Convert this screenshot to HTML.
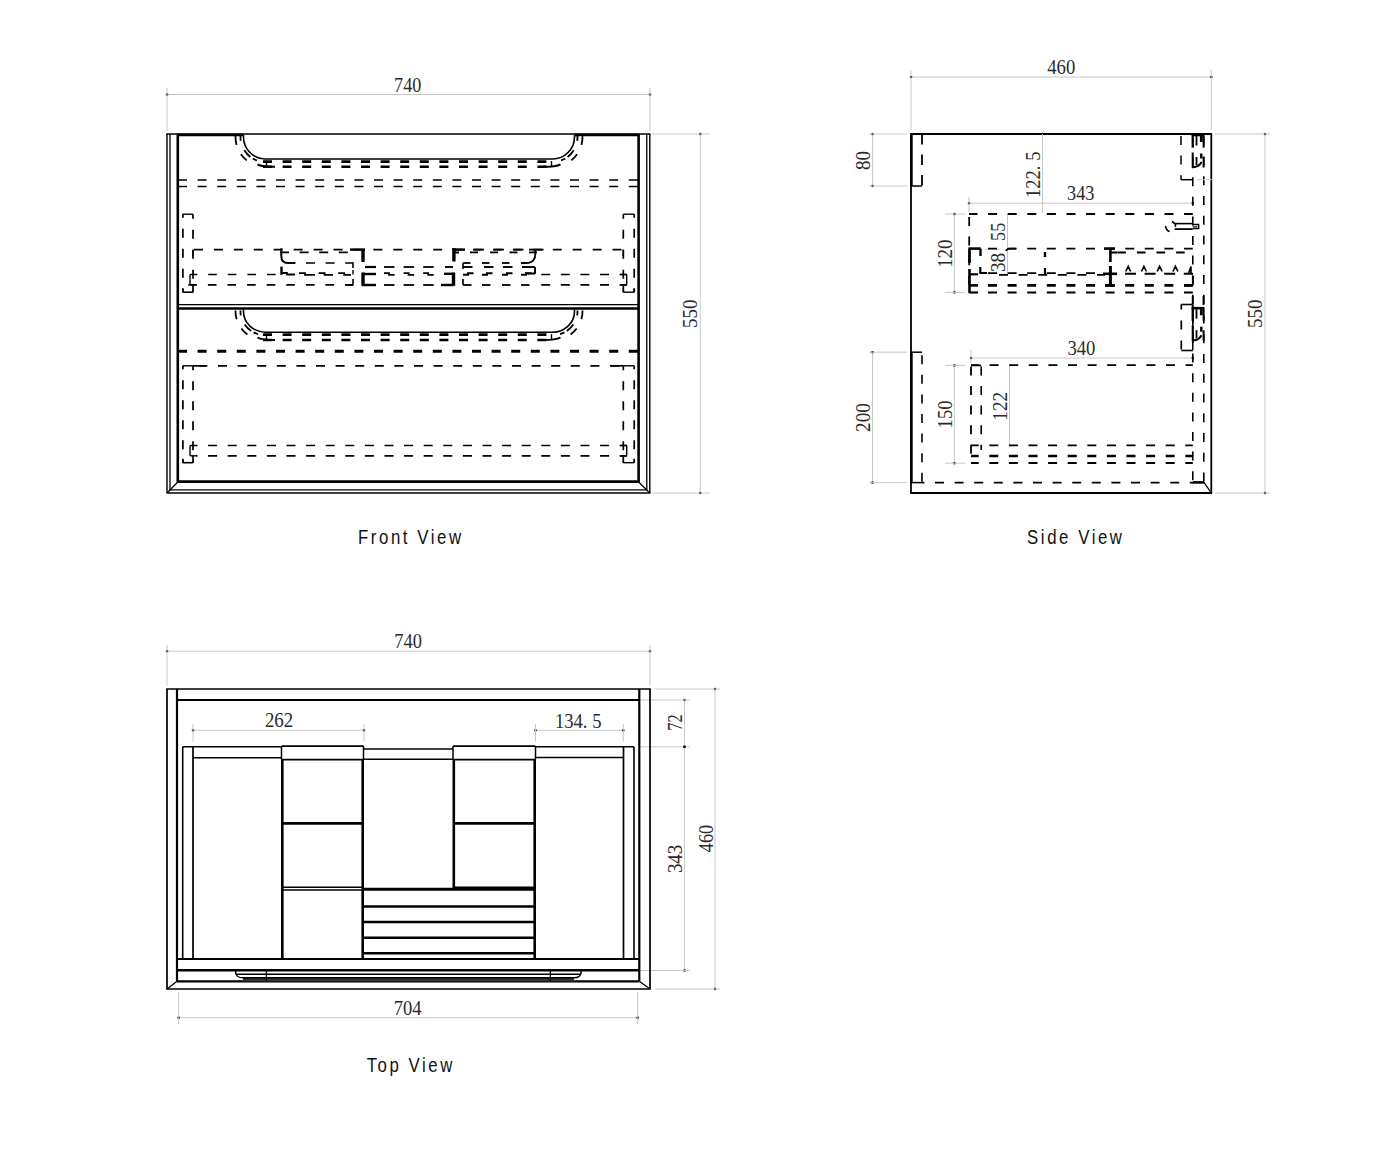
<!DOCTYPE html>
<html><head><meta charset="utf-8"><style>
html,body{margin:0;padding:0;background:#fff;width:1400px;height:1152px;overflow:hidden}
svg{display:block}
.n{font-family:"Liberation Serif",serif;fill:#2b2b2b}
.lbl{font-family:"Liberation Sans",sans-serif;font-size:21px;fill:#111;letter-spacing:3.2px}
</style></head><body>
<svg width="1400" height="1152" viewBox="0 0 1400 1152">
<rect width="1400" height="1152" fill="#fff"/>
<line x1="167" y1="94.5" x2="650" y2="94.5" stroke="#c8c8c8" stroke-width="1" stroke-linecap="butt"/>
<rect x="165.9" y="93.4" width="2.2" height="2.2" fill="#000"/>
<rect x="648.9" y="93.4" width="2.2" height="2.2" fill="#000"/>
<line x1="167" y1="88" x2="167" y2="131" stroke="#c8c8c8" stroke-width="1" stroke-linecap="butt"/>
<line x1="650" y1="88" x2="650" y2="131" stroke="#c8c8c8" stroke-width="1" stroke-linecap="butt"/>
<line x1="700.3" y1="134" x2="700.3" y2="493" stroke="#c8c8c8" stroke-width="1" stroke-linecap="butt"/>
<rect x="699.1999999999999" y="132.9" width="2.2" height="2.2" fill="#000"/>
<rect x="699.1999999999999" y="491.9" width="2.2" height="2.2" fill="#000"/>
<line x1="652" y1="134" x2="710" y2="134" stroke="#c8c8c8" stroke-width="1" stroke-linecap="butt"/>
<line x1="652" y1="493" x2="710" y2="493" stroke="#c8c8c8" stroke-width="1" stroke-linecap="butt"/>
<line x1="167" y1="134" x2="167" y2="493" stroke="#000" stroke-width="1.4" stroke-linecap="butt"/>
<line x1="170" y1="134" x2="170" y2="490" stroke="#000" stroke-width="1.3" stroke-linecap="butt"/>
<line x1="177.8" y1="134" x2="177.8" y2="482" stroke="#000" stroke-width="2.6" stroke-linecap="butt"/>
<line x1="638.6" y1="134" x2="638.6" y2="482" stroke="#000" stroke-width="2.6" stroke-linecap="butt"/>
<line x1="646.8" y1="134" x2="646.8" y2="490" stroke="#000" stroke-width="1.3" stroke-linecap="butt"/>
<line x1="649.8" y1="134" x2="649.8" y2="493" stroke="#000" stroke-width="1.4" stroke-linecap="butt"/>
<line x1="166.3" y1="134" x2="650.5" y2="134" stroke="#000" stroke-width="1.6" stroke-linecap="butt"/>
<line x1="177" y1="135" x2="243.5" y2="135" stroke="#000" stroke-width="2.4" stroke-linecap="butt"/>
<line x1="574.5" y1="135" x2="638" y2="135" stroke="#000" stroke-width="2.4" stroke-linecap="butt"/>
<line x1="177" y1="481.7" x2="639.5" y2="481.7" stroke="#000" stroke-width="2.8" stroke-linecap="butt"/>
<line x1="170" y1="489.8" x2="646.8" y2="489.8" stroke="#000" stroke-width="1.3" stroke-linecap="butt"/>
<line x1="166.5" y1="493" x2="650.5" y2="493" stroke="#000" stroke-width="1.6" stroke-linecap="butt"/>
<line x1="177.8" y1="482" x2="167" y2="493" stroke="#000" stroke-width="1.3" stroke-linecap="butt"/>
<line x1="638.6" y1="482" x2="649.8" y2="493" stroke="#000" stroke-width="1.3" stroke-linecap="butt"/>
<path d="M243.5,135 L243.5,137 A22,22 0 0 0 265.5,159 L552.5,159 A22,22 0 0 0 574.5,137 L574.5,135" stroke="#000" stroke-width="1.6" fill="none" stroke-linecap="butt" stroke-linejoin="miter"/>
<path d="M240.5,136 A25,25 0 0 0 265.5,162" stroke="#000" stroke-width="1.8" fill="none" stroke-dasharray="5 9.9 9 2.8 4.6 40" stroke-dashoffset="0" stroke-linecap="butt" stroke-linejoin="miter"/>
<path d="M577.5,136 A25,25 0 0 1 552.5,162" stroke="#000" stroke-width="1.8" fill="none" stroke-dasharray="5 9.9 9 2.8 4.6 40" stroke-dashoffset="0" stroke-linecap="butt" stroke-linejoin="miter"/>
<path d="M235.5,136 A30,30 0 0 0 265.5,167" stroke="#000" stroke-width="1.8" fill="none" stroke-dasharray="9 10.3 8.5 40" stroke-dashoffset="0" stroke-linecap="butt" stroke-linejoin="miter"/>
<path d="M582.5,136 A30,30 0 0 1 552.5,167" stroke="#000" stroke-width="1.8" fill="none" stroke-dasharray="9 10.3 8.5 40" stroke-dashoffset="0" stroke-linecap="butt" stroke-linejoin="miter"/>
<line x1="262" y1="161.6" x2="556" y2="161.6" stroke="#000" stroke-width="2.8" stroke-dasharray="9 10.6" stroke-dashoffset="-1" stroke-linecap="butt"/>
<line x1="262" y1="166.8" x2="556" y2="166.8" stroke="#000" stroke-width="2.4" stroke-dasharray="9 10.6" stroke-dashoffset="-1" stroke-linecap="butt"/>
<line x1="266.5" y1="161" x2="266.5" y2="167" stroke="#000" stroke-width="1.4" stroke-linecap="butt"/>
<line x1="551.5" y1="161" x2="551.5" y2="167" stroke="#000" stroke-width="1.4" stroke-linecap="butt"/>
<path d="M257.5,164.3 Q262,166.8 275,166.8" stroke="#000" stroke-width="2.0" fill="none" stroke-linecap="butt" stroke-linejoin="miter"/>
<path d="M560.5,164.3 Q556,166.8 543,166.8" stroke="#000" stroke-width="2.0" fill="none" stroke-linecap="butt" stroke-linejoin="miter"/>
<line x1="178" y1="180" x2="638" y2="180" stroke="#000" stroke-width="1.7" stroke-dasharray="9 10.6" stroke-dashoffset="0" stroke-linecap="butt"/>
<line x1="178" y1="186.5" x2="638" y2="186.5" stroke="#000" stroke-width="1.7" stroke-dasharray="9 10.6" stroke-dashoffset="0" stroke-linecap="butt"/>
<line x1="182.6" y1="214.2" x2="193" y2="214.2" stroke="#000" stroke-width="1.4" stroke-linecap="butt"/>
<line x1="182.6" y1="292.2" x2="193" y2="292.2" stroke="#000" stroke-width="1.6" stroke-linecap="butt"/>
<line x1="182.9" y1="288.2" x2="182.9" y2="292.2" stroke="#000" stroke-width="1.7" stroke-linecap="butt"/>
<line x1="193" y1="285.2" x2="193" y2="292.2" stroke="#000" stroke-width="1.7" stroke-linecap="butt"/>
<line x1="634.2" y1="288.2" x2="634.2" y2="292.2" stroke="#000" stroke-width="1.7" stroke-linecap="butt"/>
<line x1="623.3" y1="285.2" x2="623.3" y2="292.2" stroke="#000" stroke-width="1.7" stroke-linecap="butt"/>
<line x1="182.9" y1="214.2" x2="182.9" y2="292.2" stroke="#000" stroke-width="1.7" stroke-dasharray="9 11" stroke-dashoffset="5.5" stroke-linecap="butt"/>
<line x1="193" y1="214.2" x2="193" y2="292.2" stroke="#000" stroke-width="1.7" stroke-dasharray="9 11" stroke-dashoffset="4.5" stroke-linecap="butt"/>
<line x1="623.3" y1="214.2" x2="634.2" y2="214.2" stroke="#000" stroke-width="1.4" stroke-linecap="butt"/>
<line x1="623.3" y1="292.2" x2="634.2" y2="292.2" stroke="#000" stroke-width="1.4" stroke-linecap="butt"/>
<line x1="634.2" y1="214.2" x2="634.2" y2="292.2" stroke="#000" stroke-width="1.7" stroke-dasharray="9 11" stroke-dashoffset="5.5" stroke-linecap="butt"/>
<line x1="623.3" y1="214.2" x2="623.3" y2="292.2" stroke="#000" stroke-width="1.7" stroke-dasharray="9 11" stroke-dashoffset="4.5" stroke-linecap="butt"/>
<line x1="193" y1="249.7" x2="623.3" y2="249.7" stroke="#000" stroke-width="1.7" stroke-dasharray="9 10.93" stroke-dashoffset="-1" stroke-linecap="butt"/>
<line x1="196" y1="274.5" x2="281" y2="274.5" stroke="#000" stroke-width="1.7" stroke-dasharray="8.6 11" stroke-dashoffset="-12.2" stroke-linecap="butt"/>
<line x1="541.2" y1="274.5" x2="627" y2="274.5" stroke="#000" stroke-width="1.7" stroke-dasharray="9 10.6" stroke-dashoffset="0" stroke-linecap="butt"/>
<line x1="188.3" y1="284.8" x2="353" y2="284.8" stroke="#000" stroke-width="1.7" stroke-dasharray="8.6 11" stroke-dashoffset="0" stroke-linecap="butt"/>
<line x1="541.2" y1="284.8" x2="627" y2="284.8" stroke="#000" stroke-width="1.7" stroke-dasharray="9 10.6" stroke-dashoffset="0" stroke-linecap="butt"/>
<line x1="190" y1="274.5" x2="190" y2="284.8" stroke="#000" stroke-width="1.4" stroke-linecap="butt"/>
<line x1="190" y1="274.5" x2="196" y2="274.5" stroke="#000" stroke-width="1.4" stroke-linecap="butt"/>
<line x1="190" y1="284.8" x2="196" y2="284.8" stroke="#000" stroke-width="1.4" stroke-linecap="butt"/>
<line x1="626.7" y1="274.5" x2="626.7" y2="284.8" stroke="#000" stroke-width="1.4" stroke-linecap="butt"/>
<line x1="620" y1="274.5" x2="626.7" y2="274.5" stroke="#000" stroke-width="1.4" stroke-linecap="butt"/>
<line x1="620" y1="284.8" x2="626.7" y2="284.8" stroke="#000" stroke-width="1.4" stroke-linecap="butt"/>
<line x1="193" y1="249.7" x2="193" y2="256" stroke="#000" stroke-width="1.5" stroke-linecap="butt"/>
<line x1="623.3" y1="249.7" x2="623.3" y2="256" stroke="#000" stroke-width="1.5" stroke-linecap="butt"/>
<line x1="280" y1="252.4" x2="350" y2="252.4" stroke="#000" stroke-width="1.7" stroke-dasharray="9 10.6" stroke-dashoffset="0" stroke-linecap="butt"/>
<path d="M281.3,248.3 L281.3,256 Q281.3,263 288,263 L295.4,263" stroke="#000" stroke-width="2" fill="none" stroke-linecap="butt" stroke-linejoin="miter"/>
<line x1="306" y1="263" x2="353" y2="263" stroke="#000" stroke-width="1.7" stroke-dasharray="9 10.6" stroke-dashoffset="0" stroke-linecap="butt"/>
<line x1="353" y1="262.3" x2="353" y2="268" stroke="#000" stroke-width="1.6" stroke-linecap="butt"/>
<line x1="350" y1="249.6" x2="365" y2="249.6" stroke="#000" stroke-width="2.4" stroke-linecap="butt"/>
<line x1="363" y1="249" x2="363" y2="262" stroke="#000" stroke-width="3.4" stroke-linecap="butt"/>
<line x1="281.5" y1="266.6" x2="281.5" y2="274.8" stroke="#000" stroke-width="2.4" stroke-linecap="butt"/>
<path d="M281.5,273 L287,273 L287,274.5 L295,274.5" stroke="#000" stroke-width="1.8" fill="none" stroke-linecap="butt" stroke-linejoin="miter"/>
<path d="M299,273.2 L305,273.2 L305,274.8 L315,274.8" stroke="#000" stroke-width="1.8" fill="none" stroke-linecap="butt" stroke-linejoin="miter"/>
<path d="M318.6,273.2 L324.6,273.2 L324.6,274.8 L333,274.8" stroke="#000" stroke-width="1.8" fill="none" stroke-linecap="butt" stroke-linejoin="miter"/>
<path d="M338.2,273.2 L344.2,273.2 L344.2,274.8 L351,274.8" stroke="#000" stroke-width="1.8" fill="none" stroke-linecap="butt" stroke-linejoin="miter"/>
<line x1="353" y1="270" x2="353" y2="274.5" stroke="#000" stroke-width="1.4" stroke-linecap="butt"/>
<line x1="353" y1="279" x2="353" y2="285.6" stroke="#000" stroke-width="1.6" stroke-linecap="butt"/>
<line x1="345" y1="285" x2="353" y2="285" stroke="#000" stroke-width="1.6" stroke-linecap="butt"/>
<line x1="363" y1="272.5" x2="363" y2="285.8" stroke="#000" stroke-width="3.4" stroke-linecap="butt"/>
<line x1="365" y1="267" x2="376" y2="267" stroke="#000" stroke-width="2.2" stroke-linecap="butt"/>
<line x1="362" y1="274" x2="376" y2="274" stroke="#000" stroke-width="2.4" stroke-linecap="butt"/>
<line x1="362" y1="285" x2="376" y2="285" stroke="#000" stroke-width="2.4" stroke-linecap="butt"/>
<line x1="453.9" y1="248" x2="453.9" y2="261.5" stroke="#000" stroke-width="3.4" stroke-linecap="butt"/>
<line x1="452.5" y1="249.6" x2="465" y2="249.6" stroke="#000" stroke-width="2.4" stroke-linecap="butt"/>
<line x1="455" y1="252.5" x2="459" y2="252.5" stroke="#000" stroke-width="2.0" stroke-linecap="butt"/>
<line x1="474" y1="249.6" x2="484" y2="249.6" stroke="#000" stroke-width="1.8" stroke-linecap="butt"/>
<line x1="470" y1="252.4" x2="478" y2="252.4" stroke="#000" stroke-width="1.8" stroke-linecap="butt"/>
<line x1="494" y1="249.6" x2="504" y2="249.6" stroke="#000" stroke-width="1.8" stroke-linecap="butt"/>
<line x1="490" y1="252.4" x2="498" y2="252.4" stroke="#000" stroke-width="1.8" stroke-linecap="butt"/>
<line x1="513.5" y1="249.6" x2="523.5" y2="249.6" stroke="#000" stroke-width="1.8" stroke-linecap="butt"/>
<line x1="509.5" y1="252.4" x2="517.5" y2="252.4" stroke="#000" stroke-width="1.8" stroke-linecap="butt"/>
<line x1="529" y1="249.6" x2="543.6" y2="249.6" stroke="#000" stroke-width="1.8" stroke-linecap="butt"/>
<line x1="529" y1="252.4" x2="537" y2="252.4" stroke="#000" stroke-width="1.8" stroke-linecap="butt"/>
<path d="M535,250 Q537,263 526,263 L521,263" stroke="#000" stroke-width="1.9" fill="none" stroke-linecap="butt" stroke-linejoin="miter"/>
<line x1="463" y1="263" x2="470.5" y2="263" stroke="#000" stroke-width="1.8" stroke-linecap="butt"/>
<line x1="482" y1="263" x2="489.5" y2="263" stroke="#000" stroke-width="1.8" stroke-linecap="butt"/>
<line x1="502" y1="263" x2="509.5" y2="263" stroke="#000" stroke-width="1.8" stroke-linecap="butt"/>
<line x1="463" y1="263" x2="463" y2="269" stroke="#000" stroke-width="1.6" stroke-linecap="butt"/>
<line x1="463" y1="267" x2="472.5" y2="267" stroke="#000" stroke-width="1.9" stroke-linecap="butt"/>
<line x1="484" y1="267" x2="493.5" y2="267" stroke="#000" stroke-width="1.9" stroke-linecap="butt"/>
<line x1="503" y1="267" x2="512.5" y2="267" stroke="#000" stroke-width="1.9" stroke-linecap="butt"/>
<line x1="445" y1="267" x2="453" y2="267" stroke="#000" stroke-width="1.9" stroke-linecap="butt"/>
<line x1="522" y1="267" x2="535" y2="267" stroke="#000" stroke-width="1.9" stroke-linecap="butt"/>
<line x1="535" y1="267" x2="535" y2="274" stroke="#000" stroke-width="1.9" stroke-linecap="butt"/>
<path d="M463,274.8 L468,274.8 L468,273.2 L473.5,273.2" stroke="#000" stroke-width="2.0" fill="none" stroke-linecap="butt" stroke-linejoin="miter"/>
<path d="M482,274.8 L487,274.8 L487,273.2 L492.5,273.2" stroke="#000" stroke-width="2.0" fill="none" stroke-linecap="butt" stroke-linejoin="miter"/>
<path d="M502,274.8 L507,274.8 L507,273.2 L512.5,273.2" stroke="#000" stroke-width="2.0" fill="none" stroke-linecap="butt" stroke-linejoin="miter"/>
<path d="M521,274.8 L526,274.8 L526,273.2 L531.5,273.2" stroke="#000" stroke-width="2.0" fill="none" stroke-linecap="butt" stroke-linejoin="miter"/>
<line x1="525" y1="273.5" x2="535" y2="273.5" stroke="#000" stroke-width="2.0" stroke-linecap="butt"/>
<line x1="463" y1="279" x2="463" y2="285" stroke="#000" stroke-width="1.7" stroke-linecap="butt"/>
<line x1="463" y1="285" x2="471.5" y2="285" stroke="#000" stroke-width="1.8" stroke-linecap="butt"/>
<line x1="482" y1="285" x2="490.5" y2="285" stroke="#000" stroke-width="1.8" stroke-linecap="butt"/>
<line x1="502" y1="285" x2="510.5" y2="285" stroke="#000" stroke-width="1.8" stroke-linecap="butt"/>
<line x1="521" y1="285" x2="529.5" y2="285" stroke="#000" stroke-width="1.8" stroke-linecap="butt"/>
<line x1="453.5" y1="272.5" x2="453.5" y2="285.8" stroke="#000" stroke-width="3.4" stroke-linecap="butt"/>
<line x1="444" y1="273.8" x2="453.5" y2="273.8" stroke="#000" stroke-width="2.4" stroke-linecap="butt"/>
<line x1="441" y1="285" x2="453.5" y2="285" stroke="#000" stroke-width="2.4" stroke-linecap="butt"/>
<line x1="384" y1="267" x2="394.5" y2="267" stroke="#000" stroke-width="1.8" stroke-linecap="butt"/>
<path d="M384,273.2 L389,273.2 L389,274.8 L394.5,274.8" stroke="#000" stroke-width="1.8" fill="none" stroke-linecap="butt" stroke-linejoin="miter"/>
<line x1="384" y1="285" x2="394.5" y2="285" stroke="#000" stroke-width="1.8" stroke-linecap="butt"/>
<line x1="403.6" y1="267" x2="414.1" y2="267" stroke="#000" stroke-width="1.8" stroke-linecap="butt"/>
<path d="M403.6,273.2 L408.6,273.2 L408.6,274.8 L414.1,274.8" stroke="#000" stroke-width="1.8" fill="none" stroke-linecap="butt" stroke-linejoin="miter"/>
<line x1="403.6" y1="285" x2="414.1" y2="285" stroke="#000" stroke-width="1.8" stroke-linecap="butt"/>
<line x1="423.2" y1="267" x2="433.7" y2="267" stroke="#000" stroke-width="1.8" stroke-linecap="butt"/>
<path d="M423.2,273.2 L428.2,273.2 L428.2,274.8 L433.7,274.8" stroke="#000" stroke-width="1.8" fill="none" stroke-linecap="butt" stroke-linejoin="miter"/>
<line x1="423.2" y1="285" x2="433.7" y2="285" stroke="#000" stroke-width="1.8" stroke-linecap="butt"/>
<line x1="178" y1="304.6" x2="638.6" y2="304.6" stroke="#000" stroke-width="1.3" stroke-linecap="butt"/>
<line x1="178" y1="308.5" x2="638.6" y2="308.5" stroke="#000" stroke-width="2.5" stroke-linecap="butt"/>
<path d="M243.5,309.5 L243.5,311.5 A22,20.69999999999999 0 0 0 265.5,332.2 L552.5,332.2 A22,20.69999999999999 0 0 0 574.5,311.5 L574.5,309.5" stroke="#000" stroke-width="1.6" fill="none" stroke-linecap="butt" stroke-linejoin="miter"/>
<path d="M240.5,310.5 A25,23.69999999999999 0 0 0 265.5,335.2" stroke="#000" stroke-width="1.8" fill="none" stroke-dasharray="5 9.9 9 2.8 4.6 40" stroke-dashoffset="0" stroke-linecap="butt" stroke-linejoin="miter"/>
<path d="M577.5,310.5 A25,23.69999999999999 0 0 1 552.5,335.2" stroke="#000" stroke-width="1.8" fill="none" stroke-dasharray="5 9.9 9 2.8 4.6 40" stroke-dashoffset="0" stroke-linecap="butt" stroke-linejoin="miter"/>
<path d="M235.5,310.5 A30,28.69999999999999 0 0 0 265.5,340.2" stroke="#000" stroke-width="1.8" fill="none" stroke-dasharray="9 10.3 8.5 40" stroke-dashoffset="0" stroke-linecap="butt" stroke-linejoin="miter"/>
<path d="M582.5,310.5 A30,28.69999999999999 0 0 1 552.5,340.2" stroke="#000" stroke-width="1.8" fill="none" stroke-dasharray="9 10.3 8.5 40" stroke-dashoffset="0" stroke-linecap="butt" stroke-linejoin="miter"/>
<line x1="262" y1="334.6" x2="556" y2="334.6" stroke="#000" stroke-width="2.8" stroke-dasharray="9 10.6" stroke-dashoffset="-1" stroke-linecap="butt"/>
<line x1="262" y1="340" x2="556" y2="340" stroke="#000" stroke-width="2.4" stroke-dasharray="9 10.6" stroke-dashoffset="-1" stroke-linecap="butt"/>
<line x1="266.5" y1="334.2" x2="266.5" y2="340.2" stroke="#000" stroke-width="1.4" stroke-linecap="butt"/>
<line x1="551.5" y1="334.2" x2="551.5" y2="340.2" stroke="#000" stroke-width="1.4" stroke-linecap="butt"/>
<path d="M257.5,337.5 Q262,340 275,340" stroke="#000" stroke-width="2.0" fill="none" stroke-linecap="butt" stroke-linejoin="miter"/>
<path d="M560.5,337.5 Q556,340 543,340" stroke="#000" stroke-width="2.0" fill="none" stroke-linecap="butt" stroke-linejoin="miter"/>
<line x1="178" y1="351.2" x2="638" y2="351.2" stroke="#000" stroke-width="3.0" stroke-dasharray="9 10.6" stroke-dashoffset="0" stroke-linecap="butt"/>
<line x1="182.6" y1="365.8" x2="193" y2="365.8" stroke="#000" stroke-width="1.4" stroke-linecap="butt"/>
<line x1="182.6" y1="462.7" x2="193" y2="462.7" stroke="#000" stroke-width="1.6" stroke-linecap="butt"/>
<line x1="182.9" y1="458.7" x2="182.9" y2="462.7" stroke="#000" stroke-width="1.7" stroke-linecap="butt"/>
<line x1="193" y1="455.7" x2="193" y2="462.7" stroke="#000" stroke-width="1.7" stroke-linecap="butt"/>
<line x1="634.2" y1="458.7" x2="634.2" y2="462.7" stroke="#000" stroke-width="1.7" stroke-linecap="butt"/>
<line x1="623.3" y1="455.7" x2="623.3" y2="462.7" stroke="#000" stroke-width="1.7" stroke-linecap="butt"/>
<line x1="182.9" y1="365.8" x2="182.9" y2="462.7" stroke="#000" stroke-width="1.7" stroke-dasharray="9 11" stroke-dashoffset="5.5" stroke-linecap="butt"/>
<line x1="193" y1="365.8" x2="193" y2="462.7" stroke="#000" stroke-width="1.7" stroke-dasharray="9 11" stroke-dashoffset="4.5" stroke-linecap="butt"/>
<line x1="623.3" y1="365.8" x2="634.2" y2="365.8" stroke="#000" stroke-width="1.4" stroke-linecap="butt"/>
<line x1="623.3" y1="462.7" x2="634.2" y2="462.7" stroke="#000" stroke-width="1.4" stroke-linecap="butt"/>
<line x1="634.2" y1="365.8" x2="634.2" y2="462.7" stroke="#000" stroke-width="1.7" stroke-dasharray="9 11" stroke-dashoffset="5.5" stroke-linecap="butt"/>
<line x1="623.3" y1="365.8" x2="623.3" y2="462.7" stroke="#000" stroke-width="1.7" stroke-dasharray="9 11" stroke-dashoffset="4.5" stroke-linecap="butt"/>
<line x1="196" y1="445.5" x2="627" y2="445.5" stroke="#000" stroke-width="1.7" stroke-dasharray="9 10.6" stroke-dashoffset="-12.1" stroke-linecap="butt"/>
<line x1="196" y1="455.8" x2="627" y2="455.8" stroke="#000" stroke-width="1.7" stroke-dasharray="9 10.6" stroke-dashoffset="-12.1" stroke-linecap="butt"/>
<line x1="190" y1="445.5" x2="190" y2="455.8" stroke="#000" stroke-width="1.4" stroke-linecap="butt"/>
<line x1="190" y1="445.5" x2="196" y2="445.5" stroke="#000" stroke-width="1.4" stroke-linecap="butt"/>
<line x1="190" y1="455.8" x2="196" y2="455.8" stroke="#000" stroke-width="1.4" stroke-linecap="butt"/>
<line x1="626.7" y1="445.5" x2="626.7" y2="455.8" stroke="#000" stroke-width="1.4" stroke-linecap="butt"/>
<line x1="620" y1="445.5" x2="626.7" y2="445.5" stroke="#000" stroke-width="1.4" stroke-linecap="butt"/>
<line x1="620" y1="455.8" x2="626.7" y2="455.8" stroke="#000" stroke-width="1.4" stroke-linecap="butt"/>
<line x1="193" y1="365.8" x2="623.3" y2="365.8" stroke="#000" stroke-width="1.7" stroke-dasharray="9 10.6" stroke-dashoffset="-5.4" stroke-linecap="butt"/>
<line x1="193" y1="365.8" x2="206" y2="365.8" stroke="#000" stroke-width="1.7" stroke-linecap="butt"/>
<line x1="611" y1="365.8" x2="623.3" y2="365.8" stroke="#000" stroke-width="1.7" stroke-linecap="butt"/>
<text transform="translate(410.8,543.6) scale(0.8,1)" text-anchor="middle" class="lbl">Front View</text>
<line x1="911" y1="77" x2="1211.3" y2="77" stroke="#c8c8c8" stroke-width="1" stroke-linecap="butt"/>
<rect x="909.9" y="75.9" width="2.2" height="2.2" fill="#000"/>
<rect x="1210.2" y="75.9" width="2.2" height="2.2" fill="#000"/>
<line x1="911" y1="70" x2="911" y2="130" stroke="#c8c8c8" stroke-width="1" stroke-linecap="butt"/>
<line x1="1211.3" y1="70" x2="1211.3" y2="130" stroke="#c8c8c8" stroke-width="1" stroke-linecap="butt"/>
<line x1="1265" y1="134" x2="1265" y2="493" stroke="#c8c8c8" stroke-width="1" stroke-linecap="butt"/>
<rect x="1263.9" y="132.9" width="2.2" height="2.2" fill="#000"/>
<rect x="1263.9" y="491.9" width="2.2" height="2.2" fill="#000"/>
<line x1="1215" y1="134" x2="1270" y2="134" stroke="#c8c8c8" stroke-width="1" stroke-linecap="butt"/>
<line x1="1215" y1="493" x2="1270" y2="493" stroke="#c8c8c8" stroke-width="1" stroke-linecap="butt"/>
<path d="M911,134 L1211.3,134 L1211.3,493 L911,493 Z" stroke="#000" stroke-width="1.8" fill="none" stroke-linecap="butt" stroke-linejoin="miter"/>
<line x1="911" y1="186" x2="922" y2="186" stroke="#000" stroke-width="1.5" stroke-linecap="butt"/>
<line x1="922" y1="134" x2="922" y2="186" stroke="#000" stroke-width="1.8" stroke-dasharray="10.5 10" stroke-dashoffset="0" stroke-linecap="butt"/>
<line x1="911.5" y1="134" x2="911.5" y2="186" stroke="#000" stroke-width="2.4" stroke-linecap="butt"/>
<line x1="911" y1="352.2" x2="922" y2="352.2" stroke="#000" stroke-width="1.5" stroke-linecap="butt"/>
<line x1="911" y1="482.6" x2="922" y2="482.6" stroke="#000" stroke-width="1.5" stroke-linecap="butt"/>
<line x1="922" y1="352.2" x2="922" y2="482.6" stroke="#000" stroke-width="1.6" stroke-dasharray="9 10.6" stroke-dashoffset="-3" stroke-linecap="butt"/>
<line x1="911.5" y1="352" x2="911.5" y2="482.6" stroke="#000" stroke-width="2.4" stroke-linecap="butt"/>
<line x1="922" y1="482.6" x2="1193" y2="482.6" stroke="#000" stroke-width="1.8" stroke-dasharray="9 10.6" stroke-dashoffset="-13" stroke-linecap="butt"/>
<line x1="1181" y1="134" x2="1181" y2="179.7" stroke="#000" stroke-width="1.5" stroke-dasharray="9 10.6" stroke-dashoffset="-2" stroke-linecap="butt"/>
<line x1="1181" y1="179.7" x2="1192.7" y2="179.7" stroke="#000" stroke-width="1.5" stroke-linecap="butt"/>
<line x1="1192.8" y1="134" x2="1192.8" y2="482.4" stroke="#000" stroke-width="1.6" stroke-dasharray="9 10.6" stroke-dashoffset="-4" stroke-linecap="butt"/>
<line x1="1203.8" y1="134" x2="1203.8" y2="482.4" stroke="#000" stroke-width="1.6" stroke-dasharray="9 10.75" stroke-dashoffset="-2.75" stroke-linecap="butt"/>
<line x1="1193" y1="482.4" x2="1204" y2="482.4" stroke="#000" stroke-width="2.6" stroke-linecap="butt"/>
<line x1="1204" y1="482.4" x2="1211.3" y2="493" stroke="#000" stroke-width="1.3" stroke-linecap="butt"/>
<line x1="1197" y1="179.7" x2="1212" y2="179.7" stroke="#c8c8c8" stroke-width="1" stroke-linecap="butt"/>
<line x1="1191.6" y1="135" x2="1204" y2="135" stroke="#000" stroke-width="2.6" stroke-linecap="butt"/>
<line x1="1192.7" y1="134" x2="1192.7" y2="147.7" stroke="#000" stroke-width="2.2" stroke-linecap="butt"/>
<line x1="1196.5" y1="136" x2="1196.5" y2="145.5" stroke="#000" stroke-width="1.8" stroke-linecap="butt"/>
<line x1="1201.3" y1="136" x2="1201.3" y2="142" stroke="#000" stroke-width="2.8" stroke-linecap="butt"/>
<line x1="1203.6" y1="134" x2="1203.6" y2="147.7" stroke="#000" stroke-width="2.0" stroke-linecap="butt"/>
<path d="M1192.7,152.4 L1192.7,167.2 Q1199,167 1201.5,162" stroke="#000" stroke-width="2" fill="none" stroke-linecap="butt" stroke-linejoin="miter"/>
<line x1="1196.5" y1="157" x2="1196.5" y2="165" stroke="#000" stroke-width="1.8" stroke-linecap="butt"/>
<line x1="1201.3" y1="153.5" x2="1201.3" y2="158.5" stroke="#000" stroke-width="2.4" stroke-linecap="butt"/>
<line x1="1203.6" y1="157" x2="1203.6" y2="167.5" stroke="#000" stroke-width="2.0" stroke-linecap="butt"/>
<line x1="1191.6" y1="308.2" x2="1204" y2="308.2" stroke="#000" stroke-width="2.6" stroke-linecap="butt"/>
<line x1="1192.7" y1="307.2" x2="1192.7" y2="320.9" stroke="#000" stroke-width="2.2" stroke-linecap="butt"/>
<line x1="1196.5" y1="309.2" x2="1196.5" y2="318.7" stroke="#000" stroke-width="1.8" stroke-linecap="butt"/>
<line x1="1201.3" y1="309.2" x2="1201.3" y2="315.2" stroke="#000" stroke-width="2.8" stroke-linecap="butt"/>
<line x1="1203.6" y1="307.2" x2="1203.6" y2="320.9" stroke="#000" stroke-width="2.0" stroke-linecap="butt"/>
<path d="M1192.7,325.6 L1192.7,340.4 Q1199,340.2 1201.5,335.2" stroke="#000" stroke-width="2" fill="none" stroke-linecap="butt" stroke-linejoin="miter"/>
<line x1="1196.5" y1="330.2" x2="1196.5" y2="338.2" stroke="#000" stroke-width="1.8" stroke-linecap="butt"/>
<line x1="1201.3" y1="326.7" x2="1201.3" y2="331.7" stroke="#000" stroke-width="2.4" stroke-linecap="butt"/>
<line x1="1203.6" y1="330.2" x2="1203.6" y2="340.7" stroke="#000" stroke-width="2.0" stroke-linecap="butt"/>
<line x1="1192.7" y1="296" x2="1192.7" y2="307" stroke="#000" stroke-width="1.8" stroke-linecap="butt"/>
<line x1="1203.5" y1="296" x2="1203.5" y2="305" stroke="#000" stroke-width="1.8" stroke-linecap="butt"/>
<line x1="1181.3" y1="304.5" x2="1192.8" y2="304.5" stroke="#000" stroke-width="1.6" stroke-linecap="butt"/>
<line x1="1181.3" y1="350.5" x2="1192.8" y2="350.5" stroke="#000" stroke-width="1.6" stroke-linecap="butt"/>
<line x1="1181.3" y1="304.5" x2="1181.3" y2="350.5" stroke="#000" stroke-width="1.7" stroke-dasharray="9 11" stroke-dashoffset="4" stroke-linecap="butt"/>
<line x1="954.4" y1="214" x2="954.4" y2="292.4" stroke="#c8c8c8" stroke-width="1" stroke-linecap="butt"/>
<rect x="953.3" y="212.9" width="2.2" height="2.2" fill="#000"/>
<rect x="953.3" y="291.29999999999995" width="2.2" height="2.2" fill="#000"/>
<line x1="945" y1="214" x2="965" y2="214" stroke="#c8c8c8" stroke-width="1" stroke-linecap="butt"/>
<line x1="945" y1="292.4" x2="965" y2="292.4" stroke="#c8c8c8" stroke-width="1" stroke-linecap="butt"/>
<line x1="1007.5" y1="214" x2="1007.5" y2="273.2" stroke="#c8c8c8" stroke-width="1" stroke-linecap="butt"/>
<line x1="985" y1="249.2" x2="1000" y2="249.2" stroke="#c8c8c8" stroke-width="1" stroke-linecap="butt"/>
<line x1="1042.5" y1="134" x2="1042.5" y2="213" stroke="#c8c8c8" stroke-width="1" stroke-linecap="butt"/>
<line x1="969" y1="203.2" x2="1192.8" y2="203.2" stroke="#c8c8c8" stroke-width="1" stroke-linecap="butt"/>
<rect x="967.9" y="202.1" width="2.2" height="2.2" fill="#000"/>
<rect x="1191.7" y="202.1" width="2.2" height="2.2" fill="#000"/>
<line x1="969" y1="197" x2="969" y2="212" stroke="#c8c8c8" stroke-width="1" stroke-linecap="butt"/>
<line x1="969" y1="214" x2="1192.8" y2="214" stroke="#000" stroke-width="1.8" stroke-dasharray="9 10.6" stroke-dashoffset="0.5" stroke-linecap="butt"/>
<line x1="969.2" y1="214" x2="969.2" y2="292.4" stroke="#000" stroke-width="1.8" stroke-dasharray="9 10.6" stroke-dashoffset="-3" stroke-linecap="butt"/>
<line x1="988" y1="248.6" x2="1192.8" y2="248.6" stroke="#000" stroke-width="1.8" stroke-dasharray="9 10.6" stroke-dashoffset="0" stroke-linecap="butt"/>
<line x1="1113" y1="252.5" x2="1192.8" y2="252.5" stroke="#000" stroke-width="1.8" stroke-dasharray="8.6 11" stroke-dashoffset="-4.3" stroke-linecap="butt"/>
<line x1="988" y1="273.2" x2="1105" y2="273.2" stroke="#000" stroke-width="1.8" stroke-dasharray="9 10.6" stroke-dashoffset="0" stroke-linecap="butt"/>
<line x1="995" y1="274.8" x2="1105" y2="274.8" stroke="#000" stroke-width="1.8" stroke-dasharray="9 10.6" stroke-dashoffset="-4" stroke-linecap="butt"/>
<line x1="1125" y1="273.8" x2="1193" y2="273.8" stroke="#000" stroke-width="2.0" stroke-dasharray="11 8.6" stroke-dashoffset="0" stroke-linecap="butt"/>
<line x1="988" y1="285.4" x2="1192.8" y2="285.4" stroke="#000" stroke-width="2.6" stroke-dasharray="9 10.6" stroke-dashoffset="0" stroke-linecap="butt"/>
<line x1="988" y1="292.5" x2="1192.8" y2="292.5" stroke="#000" stroke-width="1.9" stroke-dasharray="9 10.6" stroke-dashoffset="0" stroke-linecap="butt"/>
<line x1="969.5" y1="248.6" x2="969.5" y2="263" stroke="#000" stroke-width="2.8" stroke-linecap="butt"/>
<line x1="968.5" y1="248.6" x2="980.7" y2="248.6" stroke="#000" stroke-width="2.6" stroke-linecap="butt"/>
<line x1="980.5" y1="248.6" x2="980.5" y2="256" stroke="#000" stroke-width="2.4" stroke-linecap="butt"/>
<line x1="969.5" y1="269" x2="969.5" y2="293" stroke="#000" stroke-width="2.6" stroke-linecap="butt"/>
<line x1="969" y1="274.3" x2="978" y2="274.3" stroke="#000" stroke-width="2.2" stroke-linecap="butt"/>
<line x1="969" y1="285.4" x2="978" y2="285.4" stroke="#000" stroke-width="2.6" stroke-linecap="butt"/>
<line x1="969" y1="292.5" x2="978" y2="292.5" stroke="#000" stroke-width="2.2" stroke-linecap="butt"/>
<path d="M980.3,267 L980.3,273 L987,273" stroke="#000" stroke-width="2.2" fill="none" stroke-linecap="butt" stroke-linejoin="miter"/>
<path d="M1006,251 Q1007,248.6 1010,248.6 L1016,248.6" stroke="#000" stroke-width="1.8" fill="none" stroke-linecap="butt" stroke-linejoin="miter"/>
<line x1="1045" y1="252" x2="1045" y2="257" stroke="#000" stroke-width="2.4" stroke-linecap="butt"/>
<line x1="1045" y1="268" x2="1045" y2="274" stroke="#000" stroke-width="2.2" stroke-linecap="butt"/>
<line x1="1110.4" y1="248" x2="1110.4" y2="262" stroke="#000" stroke-width="2.6" stroke-linecap="butt"/>
<line x1="1104" y1="248.6" x2="1115" y2="248.6" stroke="#000" stroke-width="2.6" stroke-linecap="butt"/>
<line x1="1110" y1="252.5" x2="1117" y2="252.5" stroke="#000" stroke-width="2.0" stroke-linecap="butt"/>
<line x1="1110.4" y1="266" x2="1110.4" y2="285.5" stroke="#000" stroke-width="3.0" stroke-linecap="butt"/>
<line x1="1103" y1="273.8" x2="1117" y2="273.8" stroke="#000" stroke-width="2.6" stroke-linecap="butt"/>
<line x1="1105" y1="285.5" x2="1115" y2="285.5" stroke="#000" stroke-width="2.6" stroke-linecap="butt"/>
<path d="M1125.7,271.5 L1128.2,266.4 L1130.7,271.5 M1141.4,271.5 L1143.9,266.4 L1146.4,271.5 M1157.1,271.5 L1159.6,266.4 L1162.1,271.5 M1172.9,271.5 L1175.4,266.4 L1177.9,271.5 M1188.6,273 L1191,266.4 L1191,273" stroke="#000" stroke-width="1.6" fill="none" stroke-linecap="butt" stroke-linejoin="miter"/>
<line x1="1192.8" y1="276" x2="1192.8" y2="285.4" stroke="#000" stroke-width="1.8" stroke-linecap="butt"/>
<line x1="1184" y1="285.4" x2="1192.8" y2="285.4" stroke="#000" stroke-width="2.4" stroke-linecap="butt"/>
<path d="M1172,221.5 L1175.4,224 L1175.4,226.8" stroke="#000" stroke-width="1.6" fill="none" stroke-linecap="butt" stroke-linejoin="miter"/>
<line x1="1175.4" y1="223.6" x2="1192.6" y2="223.6" stroke="#000" stroke-width="1.6" stroke-linecap="butt"/>
<line x1="1174.6" y1="229.1" x2="1192.6" y2="229.1" stroke="#000" stroke-width="1.8" stroke-linecap="butt"/>
<path d="M1192.6,224.5 L1198.6,224.5 L1198.6,228.5 L1192.6,228.5" stroke="#000" stroke-width="1.6" fill="none" stroke-linecap="butt" stroke-linejoin="miter"/>
<line x1="1192.6" y1="226.8" x2="1197" y2="226.8" stroke="#000" stroke-width="1.0" stroke-linecap="butt"/>
<path d="M1165.4,226 Q1166.5,230.8 1169.6,231.6" stroke="#000" stroke-width="1.5" fill="none" stroke-linecap="butt" stroke-linejoin="miter"/>
<line x1="872.6" y1="134" x2="872.6" y2="186" stroke="#c8c8c8" stroke-width="1" stroke-linecap="butt"/>
<rect x="871.5" y="132.9" width="2.2" height="2.2" fill="#000"/>
<rect x="871.5" y="184.9" width="2.2" height="2.2" fill="#000"/>
<line x1="869" y1="134" x2="907" y2="134" stroke="#c8c8c8" stroke-width="1" stroke-linecap="butt"/>
<line x1="869" y1="186" x2="907" y2="186" stroke="#c8c8c8" stroke-width="1" stroke-linecap="butt"/>
<line x1="872.5" y1="352.2" x2="872.5" y2="482.6" stroke="#c8c8c8" stroke-width="1" stroke-linecap="butt"/>
<rect x="871.4" y="351.09999999999997" width="2.2" height="2.2" fill="#000"/>
<rect x="871.4" y="481.5" width="2.2" height="2.2" fill="#000"/>
<line x1="869" y1="352.2" x2="907" y2="352.2" stroke="#c8c8c8" stroke-width="1" stroke-linecap="butt"/>
<line x1="869" y1="482.6" x2="907" y2="482.6" stroke="#c8c8c8" stroke-width="1" stroke-linecap="butt"/>
<line x1="954.4" y1="365.4" x2="954.4" y2="463.2" stroke="#c8c8c8" stroke-width="1" stroke-linecap="butt"/>
<rect x="953.3" y="364.29999999999995" width="2.2" height="2.2" fill="#000"/>
<rect x="953.3" y="462.09999999999997" width="2.2" height="2.2" fill="#000"/>
<line x1="945" y1="365.4" x2="965" y2="365.4" stroke="#c8c8c8" stroke-width="1" stroke-linecap="butt"/>
<line x1="945" y1="463.2" x2="965" y2="463.2" stroke="#c8c8c8" stroke-width="1" stroke-linecap="butt"/>
<line x1="1009.5" y1="365.4" x2="1009.5" y2="445.3" stroke="#c8c8c8" stroke-width="1" stroke-linecap="butt"/>
<line x1="971" y1="358" x2="1192.8" y2="358" stroke="#c8c8c8" stroke-width="1" stroke-linecap="butt"/>
<rect x="969.9" y="356.9" width="2.2" height="2.2" fill="#000"/>
<rect x="1191.7" y="356.9" width="2.2" height="2.2" fill="#000"/>
<line x1="971" y1="350" x2="971" y2="363" stroke="#c8c8c8" stroke-width="1" stroke-linecap="butt"/>
<line x1="971" y1="365.1" x2="1192.8" y2="365.1" stroke="#000" stroke-width="1.8" stroke-dasharray="9 10.6" stroke-dashoffset="1" stroke-linecap="butt"/>
<line x1="971" y1="365.4" x2="971" y2="463.2" stroke="#000" stroke-width="1.8" stroke-dasharray="9 10.6" stroke-dashoffset="-1" stroke-linecap="butt"/>
<line x1="981.2" y1="365.4" x2="981.2" y2="450" stroke="#000" stroke-width="1.6" stroke-dasharray="9 10.6" stroke-dashoffset="-1" stroke-linecap="butt"/>
<line x1="971" y1="365.4" x2="981" y2="365.4" stroke="#000" stroke-width="1.8" stroke-linecap="butt"/>
<line x1="971" y1="445.3" x2="1192.8" y2="445.3" stroke="#000" stroke-width="1.7" stroke-dasharray="9 10.6" stroke-dashoffset="1.3" stroke-linecap="butt"/>
<line x1="971" y1="456" x2="1192.8" y2="456" stroke="#000" stroke-width="2.6" stroke-dasharray="9 10.6" stroke-dashoffset="1.3" stroke-linecap="butt"/>
<line x1="971" y1="463" x2="1192.8" y2="463" stroke="#000" stroke-width="1.8" stroke-dasharray="9 10.6" stroke-dashoffset="1.3" stroke-linecap="butt"/>
<line x1="1192.8" y1="305" x2="1192.8" y2="350" stroke="#000" stroke-width="1.5" stroke-linecap="butt"/>
<text transform="translate(1075.8,543.6) scale(0.8,1)" text-anchor="middle" class="lbl">Side View</text>
<line x1="167" y1="651.2" x2="650" y2="651.2" stroke="#c8c8c8" stroke-width="1" stroke-linecap="butt"/>
<rect x="165.9" y="650.1" width="2.2" height="2.2" fill="#000"/>
<rect x="648.9" y="650.1" width="2.2" height="2.2" fill="#000"/>
<line x1="167" y1="645" x2="167" y2="686" stroke="#c8c8c8" stroke-width="1" stroke-linecap="butt"/>
<line x1="650" y1="645" x2="650" y2="686" stroke="#c8c8c8" stroke-width="1" stroke-linecap="butt"/>
<line x1="193" y1="730.3" x2="364" y2="730.3" stroke="#c8c8c8" stroke-width="1" stroke-linecap="butt"/>
<rect x="191.9" y="729.1999999999999" width="2.2" height="2.2" fill="#000"/>
<rect x="362.9" y="729.1999999999999" width="2.2" height="2.2" fill="#000"/>
<line x1="193" y1="724" x2="193" y2="742" stroke="#c8c8c8" stroke-width="1" stroke-linecap="butt"/>
<line x1="364" y1="724" x2="364" y2="742" stroke="#c8c8c8" stroke-width="1" stroke-linecap="butt"/>
<line x1="535.5" y1="730.3" x2="623.3" y2="730.3" stroke="#c8c8c8" stroke-width="1" stroke-linecap="butt"/>
<rect x="534.4" y="729.1999999999999" width="2.2" height="2.2" fill="#000"/>
<rect x="622.1999999999999" y="729.1999999999999" width="2.2" height="2.2" fill="#000"/>
<line x1="535.5" y1="724" x2="535.5" y2="742" stroke="#c8c8c8" stroke-width="1" stroke-linecap="butt"/>
<line x1="623.3" y1="724" x2="623.3" y2="742" stroke="#c8c8c8" stroke-width="1" stroke-linecap="butt"/>
<line x1="684.5" y1="700" x2="684.5" y2="746.8" stroke="#c8c8c8" stroke-width="1" stroke-linecap="butt"/>
<rect x="683.4" y="698.9" width="2.2" height="2.2" fill="#000"/>
<rect x="683.4" y="745.6999999999999" width="2.2" height="2.2" fill="#000"/>
<line x1="640" y1="700" x2="690" y2="700" stroke="#c8c8c8" stroke-width="1" stroke-linecap="butt"/>
<line x1="640" y1="746.8" x2="690" y2="746.8" stroke="#c8c8c8" stroke-width="1" stroke-linecap="butt"/>
<line x1="684.5" y1="746.8" x2="684.5" y2="970.5" stroke="#c8c8c8" stroke-width="1" stroke-linecap="butt"/>
<rect x="683.4" y="745.6999999999999" width="2.2" height="2.2" fill="#000"/>
<rect x="683.4" y="969.4" width="2.2" height="2.2" fill="#000"/>
<line x1="640" y1="970.5" x2="690" y2="970.5" stroke="#c8c8c8" stroke-width="1" stroke-linecap="butt"/>
<line x1="715" y1="689" x2="715" y2="989" stroke="#c8c8c8" stroke-width="1" stroke-linecap="butt"/>
<rect x="713.9" y="687.9" width="2.2" height="2.2" fill="#000"/>
<rect x="713.9" y="987.9" width="2.2" height="2.2" fill="#000"/>
<line x1="655" y1="689" x2="720" y2="689" stroke="#c8c8c8" stroke-width="1" stroke-linecap="butt"/>
<line x1="655" y1="989" x2="720" y2="989" stroke="#c8c8c8" stroke-width="1" stroke-linecap="butt"/>
<line x1="178.6" y1="1017.7" x2="637.7" y2="1017.7" stroke="#c8c8c8" stroke-width="1" stroke-linecap="butt"/>
<rect x="177.5" y="1016.6" width="2.2" height="2.2" fill="#000"/>
<rect x="636.6" y="1016.6" width="2.2" height="2.2" fill="#000"/>
<line x1="178.6" y1="992" x2="178.6" y2="1024" stroke="#c8c8c8" stroke-width="1" stroke-linecap="butt"/>
<line x1="637.7" y1="992" x2="637.7" y2="1024" stroke="#c8c8c8" stroke-width="1" stroke-linecap="butt"/>
<path d="M167,689 L650,689 L650,989 L167,989 Z" stroke="#000" stroke-width="1.7" fill="none" stroke-linecap="butt" stroke-linejoin="miter"/>
<line x1="177" y1="689" x2="177" y2="981" stroke="#000" stroke-width="2.2" stroke-linecap="butt"/>
<line x1="639.3" y1="689" x2="639.3" y2="981" stroke="#000" stroke-width="2.2" stroke-linecap="butt"/>
<line x1="177" y1="700" x2="639.3" y2="700" stroke="#000" stroke-width="2" stroke-linecap="butt"/>
<line x1="177" y1="981.3" x2="639.3" y2="981.3" stroke="#000" stroke-width="2.2" stroke-linecap="butt"/>
<line x1="177" y1="970.3" x2="639.3" y2="970.3" stroke="#000" stroke-width="2.6" stroke-linecap="butt"/>
<line x1="177" y1="981.3" x2="167" y2="989" stroke="#000" stroke-width="1.3" stroke-linecap="butt"/>
<line x1="639.3" y1="981.3" x2="650" y2="989" stroke="#000" stroke-width="1.3" stroke-linecap="butt"/>
<rect x="243" y="977.8" width="331" height="3.6" fill="#333"/>
<path d="M235.7,971 L235.7,973 Q236.5,977.8 243,977.8 L574,977.8 Q580.5,977.8 581,973 L581,971" stroke="#000" stroke-width="1.5" fill="none" stroke-linecap="butt" stroke-linejoin="miter"/>
<line x1="236.5" y1="974.3" x2="580.5" y2="974.3" stroke="#000" stroke-width="1.4" stroke-linecap="butt"/>
<line x1="266.3" y1="971" x2="266.3" y2="981" stroke="#000" stroke-width="1.2" stroke-linecap="butt"/>
<line x1="550.3" y1="971" x2="550.3" y2="981" stroke="#000" stroke-width="1.2" stroke-linecap="butt"/>
<line x1="182.7" y1="746.8" x2="182.7" y2="959" stroke="#000" stroke-width="1.6" stroke-linecap="butt"/>
<line x1="634" y1="746.8" x2="634" y2="959" stroke="#000" stroke-width="1.6" stroke-linecap="butt"/>
<line x1="193" y1="746" x2="193" y2="959" stroke="#000" stroke-width="1.7" stroke-linecap="butt"/>
<line x1="623.5" y1="746" x2="623.5" y2="959" stroke="#000" stroke-width="1.7" stroke-linecap="butt"/>
<line x1="177" y1="959" x2="639.3" y2="959" stroke="#000" stroke-width="1.8" stroke-linecap="butt"/>
<line x1="182.7" y1="746.8" x2="281" y2="746.8" stroke="#000" stroke-width="1.6" stroke-linecap="butt"/>
<line x1="193" y1="757.7" x2="281" y2="757.7" stroke="#000" stroke-width="1.6" stroke-linecap="butt"/>
<line x1="535.5" y1="746.8" x2="634" y2="746.8" stroke="#000" stroke-width="1.6" stroke-linecap="butt"/>
<line x1="535.5" y1="757.5" x2="623.5" y2="757.5" stroke="#000" stroke-width="1.6" stroke-linecap="butt"/>
<line x1="364" y1="749" x2="453" y2="749" stroke="#000" stroke-width="1.6" stroke-linecap="butt"/>
<line x1="364" y1="759.2" x2="453" y2="759.2" stroke="#000" stroke-width="1.6" stroke-linecap="butt"/>
<line x1="281.5" y1="746.1" x2="363.5" y2="746.1" stroke="#000" stroke-width="1.8" stroke-linecap="butt"/>
<line x1="281.5" y1="759.6" x2="363.5" y2="759.6" stroke="#000" stroke-width="1.8" stroke-linecap="butt"/>
<line x1="281.5" y1="746.1" x2="281.5" y2="759.6" stroke="#000" stroke-width="1.5" stroke-linecap="butt"/>
<line x1="363.5" y1="746.1" x2="363.5" y2="759.6" stroke="#000" stroke-width="1.5" stroke-linecap="butt"/>
<line x1="282.3" y1="759.6" x2="282.3" y2="959" stroke="#000" stroke-width="2.6" stroke-linecap="butt"/>
<line x1="362.7" y1="759.6" x2="362.7" y2="959" stroke="#000" stroke-width="2.6" stroke-linecap="butt"/>
<line x1="281.5" y1="823.4" x2="363.5" y2="823.4" stroke="#000" stroke-width="2.6" stroke-linecap="butt"/>
<line x1="453" y1="746.1" x2="535.5" y2="746.1" stroke="#000" stroke-width="1.8" stroke-linecap="butt"/>
<line x1="453" y1="759.6" x2="535.5" y2="759.6" stroke="#000" stroke-width="1.8" stroke-linecap="butt"/>
<line x1="453" y1="746.1" x2="453" y2="759.6" stroke="#000" stroke-width="1.5" stroke-linecap="butt"/>
<line x1="535.5" y1="746.1" x2="535.5" y2="759.6" stroke="#000" stroke-width="1.5" stroke-linecap="butt"/>
<line x1="453.8" y1="759.6" x2="453.8" y2="889" stroke="#000" stroke-width="2.6" stroke-linecap="butt"/>
<line x1="534.7" y1="759.6" x2="534.7" y2="959" stroke="#000" stroke-width="2.6" stroke-linecap="butt"/>
<line x1="453" y1="823.4" x2="535.5" y2="823.4" stroke="#000" stroke-width="2.6" stroke-linecap="butt"/>
<line x1="281.5" y1="887.2" x2="363.5" y2="887.2" stroke="#000" stroke-width="1.5" stroke-linecap="butt"/>
<line x1="281.5" y1="889.9" x2="363.5" y2="889.9" stroke="#000" stroke-width="1.5" stroke-linecap="butt"/>
<line x1="453" y1="887.2" x2="535.5" y2="887.2" stroke="#000" stroke-width="1.5" stroke-linecap="butt"/>
<line x1="363.5" y1="889.3" x2="535.5" y2="889.3" stroke="#000" stroke-width="3" stroke-linecap="butt"/>
<line x1="363.5" y1="906.5" x2="535.5" y2="906.5" stroke="#000" stroke-width="2.6" stroke-linecap="butt"/>
<line x1="363.5" y1="922" x2="535.5" y2="922" stroke="#000" stroke-width="2.6" stroke-linecap="butt"/>
<line x1="363.5" y1="937.7" x2="535.5" y2="937.7" stroke="#000" stroke-width="2.6" stroke-linecap="butt"/>
<line x1="363.5" y1="953.3" x2="535.5" y2="953.3" stroke="#000" stroke-width="2.6" stroke-linecap="butt"/>
<text transform="translate(410.8,1072) scale(0.8,1)" text-anchor="middle" class="lbl">Top View</text>
<text transform="translate(394.12,91.75) scale(0.9066,1)" class="n" font-size="20">740</text>
<text transform="translate(1047.25,74.15) scale(0.9333,1)" class="n" font-size="20">460</text>
<text transform="translate(1067.05,200.4) scale(0.9118,1)" class="n" font-size="20">343</text>
<text transform="translate(1067.45,355.45) scale(0.9327,1)" class="n" font-size="20">340</text>
<text transform="translate(264.9,727.35) scale(0.9433,1)" class="n" font-size="20">262</text>
<text transform="translate(555.0,727.6) scale(0.9289,1)" class="n" font-size="20">134. 5</text>
<text transform="translate(394.2,647.95) scale(0.9222,1)" class="n" font-size="20">740</text>
<text transform="translate(393.75,1014.9) scale(0.9263,1)" class="n" font-size="20">704</text>
<text transform="translate(697.3,328.05) rotate(-90) scale(0.954,1)" class="n" font-size="20">550</text>
<text transform="translate(1261.85,328.05) rotate(-90) scale(0.954,1)" class="n" font-size="20">550</text>
<text transform="translate(870.02,170.0) rotate(-90) scale(0.95,1)" class="n" font-size="20">80</text>
<text transform="translate(870.17,431.95) rotate(-90) scale(0.9606,1)" class="n" font-size="20">200</text>
<text transform="translate(952.3,267.8) rotate(-90) scale(0.9431,1)" class="n" font-size="20">120</text>
<text transform="translate(952.45,428.4) rotate(-90) scale(0.9282,1)" class="n" font-size="20">150</text>
<text transform="translate(1004.7,240.9) rotate(-90) scale(0.9062,1)" class="n" font-size="20">55</text>
<text transform="translate(1004.7,272.0) rotate(-90) scale(0.9621,1)" class="n" font-size="20">38</text>
<text transform="translate(1007.38,420.65) rotate(-90) scale(0.9542,1)" class="n" font-size="20">122</text>
<text transform="translate(1040.0,198.0) rotate(-90) scale(0.9289,1)" class="n" font-size="20">122. 5</text>
<text transform="translate(682.25,730.75) rotate(-90) scale(0.8216,1)" class="n" font-size="20">72</text>
<text transform="translate(682.25,873.1) rotate(-90) scale(0.9433,1)" class="n" font-size="20">343</text>
<text transform="translate(712.65,852.15) rotate(-90) scale(0.9131,1)" class="n" font-size="20">460</text>
</svg></body></html>
